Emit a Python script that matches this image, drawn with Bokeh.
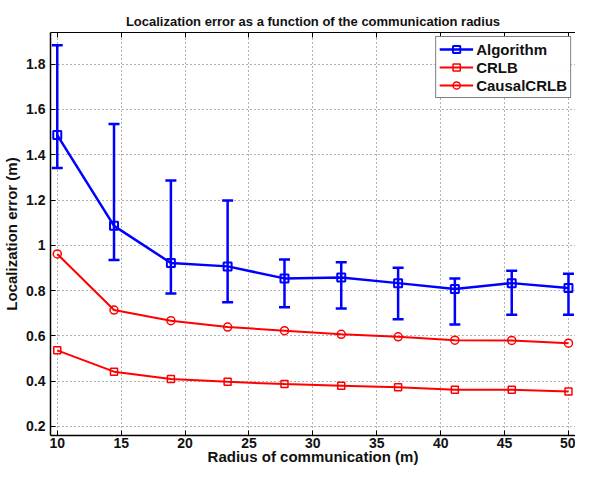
from bokeh.plotting import figure
from bokeh.models import Range1d, LinearAxis, FixedTicker, Whisker, ColumnDataSource, Legend, LegendItem
from bokeh.embed import file_html
from bokeh.resources import INLINE

radius = [10, 14.44, 18.89, 23.33, 27.78, 32.22, 36.67, 41.11, 45.56, 50]
algorithm = [1.487, 1.086, 0.922, 0.907, 0.854, 0.858, 0.833, 0.807, 0.833, 0.811]
algo_upper = [1.884, 1.536, 1.286, 1.198, 0.937, 0.925, 0.901, 0.854, 0.888, 0.874]
algo_lower = [1.342, 0.935, 0.787, 0.748, 0.726, 0.721, 0.673, 0.650, 0.693, 0.693]
crlb = [0.536, 0.442, 0.410, 0.397, 0.387, 0.380, 0.373, 0.362, 0.362, 0.354]
causal_crlb = [0.962, 0.714, 0.667, 0.639, 0.623, 0.607, 0.596, 0.581, 0.580, 0.568]
x_ticks = [10, 15, 20, 25, 30, 35, 40, 45, 50]
y_ticks = [0.2, 0.4, 0.6, 0.8, 1.0, 1.2, 1.4, 1.6, 1.8]

FONT = "Liberation Sans"
BLUE = "#0000ff"
RED = "#ff0000"

p = figure(width=575, height=467, output_backend="svg", toolbar_location=None,
           x_range=Range1d(9.47, 50.55), y_range=Range1d(0.16, 1.94),
           min_border_left=44, min_border_right=0, min_border_top=32, min_border_bottom=0,
           title="Localization error as a function of the communication radius")
p.title.text_font = FONT
p.title.text_font_size = "13px"
p.title.text_font_style = "bold"
p.title.text_color = "#111111"
p.title.align = "center"
p.title.standoff = 8
p.outline_line_color = None
p.background_fill_color = "white"
p.border_fill_color = "white"

for ax in [p.xaxis[0], p.yaxis[0]]:
    ax.major_tick_in = 5
    ax.major_tick_out = 0
    ax.minor_tick_line_color = None
    ax.axis_line_width = 1.5
    ax.axis_line_color = "black"
    ax.major_label_text_font = FONT
    ax.major_label_text_font_size = "14px"
    ax.major_label_text_font_style = "bold"
    ax.major_label_text_color = "#111111"
    ax.axis_label_text_font = FONT
    ax.axis_label_text_font_size = "15px"
    ax.axis_label_text_font_style = "bold"
    ax.axis_label_text_color = "#111111"

p.xaxis[0].ticker = FixedTicker(ticks=x_ticks)
p.yaxis[0].ticker = FixedTicker(ticks=y_ticks)
p.yaxis[0].major_label_overrides = {1.0: "1", 1: "1"}
p.xaxis[0].axis_label = "Radius of communication (m)"
p.yaxis[0].axis_label = "Localization error (m)"
p.xaxis[0].major_label_standoff = 2
p.xaxis[0].axis_label_standoff = -3
p.yaxis[0].major_label_standoff = 5
p.yaxis[0].axis_label_standoff = 3

top = LinearAxis(ticker=FixedTicker(ticks=x_ticks), major_tick_in=5, major_tick_out=0,
                 minor_tick_line_color=None,
                 major_label_overrides={t: "" for t in x_ticks},
                 major_label_standoff=0, axis_line_color="black", axis_line_width=1)
p.add_layout(top, "above")

p.xgrid.ticker = FixedTicker(ticks=x_ticks)
p.ygrid.ticker = FixedTicker(ticks=y_ticks)
for g in [p.xgrid[0], p.ygrid[0]]:
    g.grid_line_color = "#666666"
    g.grid_line_dash = "1 3"
    g.grid_line_width = 1

err = ColumnDataSource(dict(x=radius, upper=algo_upper, lower=algo_lower))
wh = Whisker(base="x", upper="upper", lower="lower", source=err,
             line_color=BLUE, line_width=2.5)
wh.upper_head.size = 11
wh.lower_head.size = 11
wh.upper_head.line_color = BLUE
wh.lower_head.line_color = BLUE
wh.upper_head.line_width = 2.5
wh.lower_head.line_width = 2.5
p.add_layout(wh)

l1 = p.line(radius, algorithm, line_color=BLUE, line_width=2.5)
s1 = p.scatter(radius, algorithm, marker="square", size=8, line_color=BLUE, line_width=2, fill_color=None)
l2 = p.line(radius, crlb, line_color=RED, line_width=2)
s2 = p.scatter(radius, crlb, marker="square", size=7, line_color=RED, line_width=1.5, fill_color=None)
l3 = p.line(radius, causal_crlb, line_color=RED, line_width=2)
s3 = p.scatter(radius, causal_crlb, marker="circle", size=8, line_color=RED, line_width=1.5, fill_color=None)

legend = Legend(items=[LegendItem(label="Algorithm", renderers=[l1, s1]),
                       LegendItem(label="CRLB", renderers=[l2, s2]),
                       LegendItem(label="CausalCRLB", renderers=[l3, s3])],
                location="top_right")
legend.label_text_font = FONT
legend.label_text_font_size = "15px"
legend.label_text_font_style = "bold"
legend.label_text_color = "#111111"
legend.border_line_color = "black"
legend.border_line_width = 1.5
legend.margin = 4
legend.padding = 3
legend.spacing = 0
legend.label_height = 18
legend.glyph_height = 18
legend.glyph_width = 34
legend.label_standoff = 3
p.add_layout(legend)

open("out.html", "w").write(file_html(p, INLINE))
